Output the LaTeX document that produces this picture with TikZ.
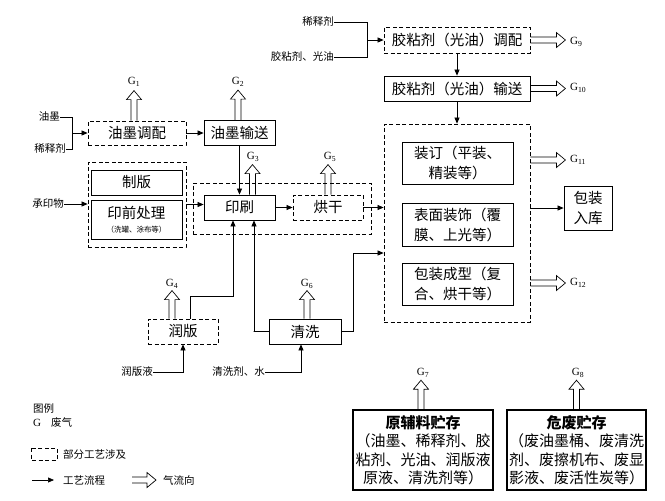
\documentclass[tikz,border=0pt]{standalone}
\usepackage{fontspec}
\setmainfont{Liberation Serif}
\newfontfamily\cjk{Noto Sans CJK SC}
\usetikzlibrary{arrows.meta,calc}

\newcommand{\gasflow}[3]{%
  \draw[shift={(#1)},rotate=#2,line width=0.7pt]
    (0,-3) -- ({#3-9},-3) -- ({#3-9},-7.5) -- (#3,0) -- ({#3-9},7.5) -- ({#3-9},3) -- (0,3);}

\begin{document}
\begin{tikzpicture}[x=1pt,y=-1pt,
  box/.style={draw,line width=0.8pt,inner sep=0pt,align=center,font=\cjk\fontsize{14.5}{20}\selectfont},
  dbox/.style={box,dash pattern=on 4pt off 2.5pt},
  grp/.style={draw,line width=0.8pt,dash pattern=on 4pt off 2.5pt,inner sep=0pt},
  store/.style={box,line width=1.6pt,font=\cjk\fontsize{15}{18.5}\selectfont},
  lbl/.style={inner sep=0pt,font=\cjk\fontsize{10.5}{12}\selectfont},
  glbl/.style={inner sep=0pt,font=\fontsize{11}{12}\selectfont},
  flow/.style={line width=0.7pt,-{Triangle[length=6pt,width=5pt]}},
  wire/.style={line width=0.7pt}]
\useasboundingbox (0,0) rectangle (665,501);

\node[dbox,minimum width=146,minimum height=26] (jtp) at (457,40) {胶粘剂（光油）调配};
\node[box,minimum width=146,minimum height=25] (jss) at (457,88.5) {胶粘剂（光油）输送};
\node[grp,minimum width=146,minimum height=198] (hz) at (457,223) {};
\node[box,minimum width=111,minimum height=42] (zd) at (457.5,163) {装订（平装、\\精装等）};
\node[box,minimum width=111,minimum height=43] (bm) at (457.5,224.5) {表面装饰（覆\\膜、上光等）};
\node[box,minimum width=111,minimum height=42] (bx) at (457.5,284) {包装成型（复\\合、烘干等）};
\node[box,minimum width=48,minimum height=44] (rk) at (588,208) {包装\\入库};

\node[dbox,minimum width=98,minimum height=24] (ytp) at (137,133) {油墨调配};
\node[box,minimum width=71,minimum height=25] (yss) at (239.5,133) {油墨输送};
\node[grp,minimum width=98,minimum height=85] (qg) at (137,204.5) {};
\node[box,minimum width=91,minimum height=25] (zb) at (136.5,182.5) {制版};
\node[box,minimum width=91,minimum height=39] (yq) at (136.5,219.5) {印前处理\\[-6pt]{\fontsize{7.5}{9}\selectfont （洗罐、涂布等）}};
\node[grp,minimum width=178,minimum height=51] (mg) at (282,208.5) {};
\node[box,minimum width=71,minimum height=25] (ys) at (239.5,207.5) {印刷};
\node[dbox,minimum width=70,minimum height=25] (hg) at (328,207.5) {烘干};
\node[dbox,minimum width=70,minimum height=25] (rb) at (183,331.5) {润版};
\node[box,minimum width=72,minimum height=25] (qx) at (305,331.5) {清洗};
\node[store,minimum width=140,minimum height=80] (ycl) at (423,450) {\textbf{原辅料贮存}\\（油墨、稀释剂、胶\\粘剂、光油、润版液\\原液、清洗剂等）};
\node[store,minimum width=139,minimum height=80] (wf) at (576.5,450) {\textbf{危废贮存}\\（废油墨桶、废清洗\\剂、废擦机布、废显\\影液、废活性炭等）};

\node[lbl,anchor=east] (ym) at (60,117) {油墨};
\node[lbl,anchor=east] (xs1) at (66,149) {稀释剂};
\coordinate (j1) at (72,133);
\draw[wire] (ym.east) -| (j1 |- xs1.east) -- (xs1.east);
\draw[flow] (j1) -- (ytp.west);
\node[lbl,anchor=east] (xs2) at (334,22) {稀释剂};
\node[lbl,anchor=east] (jn) at (334,57) {胶粘剂、光油};
\coordinate (j2) at (367,40);
\draw[wire] (xs2.east) -| (j2 |- jn.east) -- (jn.east);
\draw[flow] (j2) -- (jtp.west);
\node[lbl,anchor=east] (cyw) at (64,204) {承印物};
\draw[flow] (cyw.east) -- (qg.west |- cyw.east);
\draw[flow] (qg.east) -- (ys.west |- qg.east);
\draw[flow] (ytp.east) -- (yss.west);
\draw[flow] (yss.south) -- (ys.north);
\draw[flow] (ys.east) -- (hg.west);
\draw[flow] (hg.east) -- (hz.west |- hg.east);
\draw[flow] (jtp.south) -- (jss.north);
\draw[flow] (jss.south) -- (hz.north);
\draw[flow] (hz.east |- rk.west) -- (rk.west);
\coordinate (hzin) at ($(hz.west)+(0,30)$);
\draw[flow] (qx.east) -- ++(12,0) |- (hzin);
\draw[flow] (qx.west) -- ++(-15,0) -| ([xshift=14.5pt]ys.south);
\draw[flow] ([xshift=7pt]rb.north) -- ++(0,-22) -| ([xshift=-6.5pt]ys.south);
\node[lbl,anchor=east] (rby) at (153,372) {润版液};
\draw[flow] (rby.east) -| (rb.south);
\node[lbl,anchor=east] (qxj) at (265,372) {清洗剂、水};
\draw[flow] (qxj.east) -| ([xshift=-4pt]qx.south);

\gasflow{[xshift=-3pt]ytp.north}{90}{30}
\node[glbl] (g1) at (134,82) {G\textsubscript{1}};
\gasflow{[xshift=-1.5pt]yss.north}{90}{30}
\node[glbl] (g2) at (238,82) {G\textsubscript{2}};
\gasflow{[xshift=13pt]ys.north}{90}{30}
\node[glbl] (g3) at (253,157) {G\textsubscript{3}};
\gasflow{hg.north}{90}{30}
\node[glbl] (g5) at (330,157) {G\textsubscript{5}};
\gasflow{[xshift=-11pt]rb.north}{90}{28}
\node[glbl] (g4) at (172,284) {G\textsubscript{4}};
\gasflow{[xshift=2pt]qx.north}{90}{28}
\node[glbl] (g6) at (307,284) {G\textsubscript{6}};
\gasflow{[xshift=-2pt]ycl.north}{90}{29}
\node[glbl] (g7) at (423,373) {G\textsubscript{7}};
\gasflow{wf.north}{90}{29}
\node[glbl] (g8) at (578,373) {G\textsubscript{8}};
\gasflow{jtp.east}{0}{35}
\node[glbl,anchor=west] (g9) at (570,42) {G\textsubscript{9}};
\gasflow{jss.east}{0}{35}
\node[glbl,anchor=west] (g10) at (570,88) {G\textsubscript{10}};
\gasflow{$(hz.east)+(0,-63)$}{0}{35}
\node[glbl,anchor=west] (g11) at (570,160) {G\textsubscript{11}};
\gasflow{$(hz.east)+(0,60)$}{0}{35}
\node[glbl,anchor=west] (g12) at (570,283) {G\textsubscript{12}};

\node[lbl,anchor=west] (tl) at (33,409) {图例};
\node[glbl,anchor=west] (lg) at (33,423) {G};
\node[lbl,anchor=west] (lq) at (51,423) {废气};
\draw[wire,dash pattern=on 4pt off 2.5pt] (31,448) rectangle (57,460);
\node[lbl,anchor=west] (lb) at (63,454) {部分工艺涉及};
\coordinate (la1) at (32,480);
\coordinate (la2) at (54,480);
\draw[flow] (la1) -- (la2);
\node[lbl,anchor=west] (lf) at (63,480) {工艺流程};
\gasflow{132,480}{0}{24}
\node[lbl,anchor=west] (lh) at (163,480) {气流向};
\end{tikzpicture}
\end{document}
